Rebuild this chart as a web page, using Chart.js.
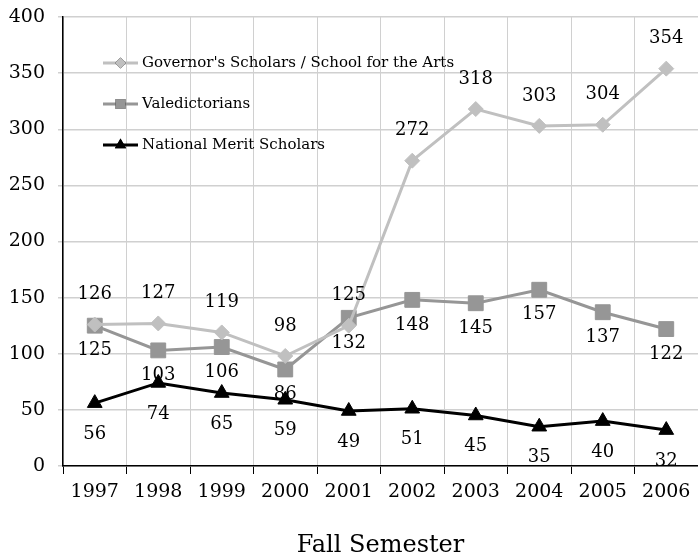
<!DOCTYPE html>
<html>
<head>
<meta charset="utf-8">
<script src="https://cdn.jsdelivr.net/npm/chart.js@4"></script>
<style>
  html, body { margin: 0; padding: 0; background: #fff; }
  #wrap { width: 698px; height: 560px; }
</style>
</head>
<body>
<div id="wrap"><canvas id="myChart" width="698" height="560"></canvas></div>
<script>
const years = ["1997", "1998", "1999", "2000", "2001", "2002", "2003", "2004", "2005", "2006"];
const governors = [126, 127, 119, 98, 125, 272, 318, 303, 304, 354];
const valedictorians = [125, 103, 106, 86, 132, 148, 145, 157, 137, 122];
const nationalMerit = [56, 74, 65, 59, 49, 51, 45, 35, 40, 32];
const yTicks = [0, 50, 100, 150, 200, 250, 300, 350, 400];

const FONT = "'DejaVu Serif', serif";

// data labels: above for first series, below for the others
const labelPlugin = {
  id: "pointLabels",
  afterDatasetsDraw(chart) {
    const ctx = chart.ctx;
    ctx.save();
    ctx.font = "18px " + FONT;
    ctx.fillStyle = "#000";
    ctx.textAlign = "center";
    ctx.textBaseline = "middle";
    chart.data.datasets.forEach((ds, i) => {
      const meta = chart.getDatasetMeta(i);
      meta.data.forEach((pt, j) => {
        ctx.fillText(String(ds.data[j]), pt.x, pt.y + ds.labelOffset);
      });
    });
    ctx.restore();
  }
};

// legend drawn inside the plot area, top left
const legendPlugin = {
  id: "innerLegend",
  afterDraw(chart) {
    const ctx = chart.ctx;
    const area = chart.chartArea;
    ctx.save();
    ctx.font = "15px " + FONT;
    ctx.textBaseline = "middle";
    chart.data.datasets.forEach((ds, i) => {
      const y = area.top + 46 + i * 41;
      const x0 = area.left + 40;
      ctx.strokeStyle = ds.borderColor;
      ctx.lineWidth = 3;
      ctx.beginPath();
      ctx.moveTo(x0, y);
      ctx.lineTo(x0 + 35, y);
      ctx.stroke();
      Chart.helpers.drawPoint(ctx, {
        pointStyle: ds.pointStyle,
        radius: ds.legendRadius,
        borderWidth: 0
      }, x0 + 17.5, y);
      ctx.fillStyle = ds.pointBackgroundColor;
      ctx.fill();
      ctx.fillStyle = "#000";
      ctx.fillText(ds.label, x0 + 39, y);
    });
    ctx.restore();
  }
};

new Chart(document.getElementById("myChart"), {
  type: "line",
  data: {
    labels: years,
    datasets: [
      {
        label: "Governor's Scholars / School for the Arts",
        data: governors,
        borderColor: "#c0c0c0",
        pointBackgroundColor: "#c0c0c0",
        pointBorderColor: "#c0c0c0",
        pointStyle: "rectRot",
        pointRadius: 7.5,
        legendRadius: 5.5,
        labelOffset: -30
      },
      {
        label: "Valedictorians",
        data: valedictorians,
        borderColor: "#969696",
        pointBackgroundColor: "#969696",
        pointBorderColor: "#969696",
        pointStyle: "rect",
        pointRadius: 10.5,
        legendRadius: 7,
        labelOffset: 25
      },
      {
        label: "National Merit Scholars",
        data: nationalMerit,
        borderColor: "#000000",
        pointBackgroundColor: "#000000",
        pointBorderColor: "#000000",
        pointStyle: "triangle",
        pointRadius: 8.5,
        legendRadius: 6.5,
        labelOffset: 31
      }
    ]
  },
  options: {
    responsive: false,
    animation: false,
    layout: { autoPadding: false, padding: { top: 17, right: 0, left: 0, bottom: 0 } },
    elements: {
      line: { borderWidth: 3, tension: 0 },
      point: { borderWidth: 1 }
    },
    plugins: {
      legend: { display: false },
      tooltip: { enabled: false }
    },
    scales: {
      x: {
        offset: true,
        grid: {
          offset: true,
          color: "#d0d0d0",
          tickColor: "#000",
          tickLength: 8,
          lineWidth: 1
        },
        border: { color: "#000", width: 1.5 },
        ticks: {
          color: "#000",
          font: { family: FONT, size: 19 },
          padding: 7,
          maxRotation: 0
        },
        title: {
          display: true,
          text: "Fall Semester",
          color: "#000",
          font: { family: FONT, size: 24 },
          padding: { top: 0, bottom: 0 }
        },
        afterFit(s) {
          s.height = 94;
          s.paddingLeft = 0;
          s.paddingRight = 0;
        }
      },
      y: {
        min: 0,
        max: 400,
        afterBuildTicks(s) { s.ticks = yTicks.map(v => ({ value: v })); },
        grid: {
          color: "#d0d0d0",
          tickColor: "#d0d0d0",
          tickLength: 5,
          lineWidth: 1.5
        },
        border: { color: "#000", width: 1.5 },
        ticks: {
          color: "#000",
          font: { family: FONT, size: 19 },
          padding: 13
        },
        afterFit(s) {
          s.width = 63;
          s.paddingTop = 0;
          s.paddingBottom = 0;
        }
      }
    }
  },
  plugins: [labelPlugin, legendPlugin]
});
</script>
</body>
</html>
